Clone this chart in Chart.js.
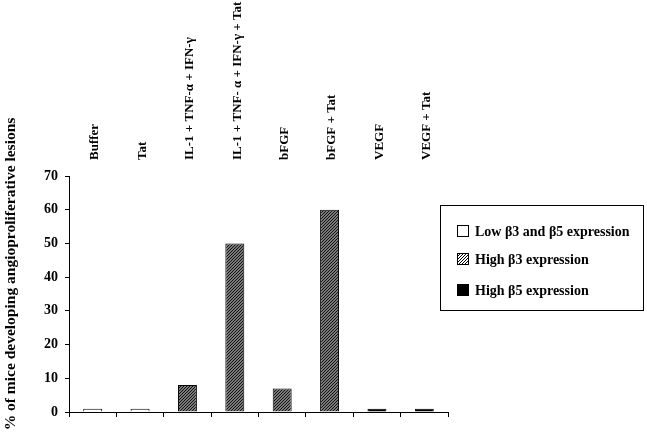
<!DOCTYPE html>
<html>
<head>
<meta charset="utf-8">
<script src="https://cdn.jsdelivr.net/npm/chart.js@4.4.1/dist/chart.umd.min.js"></script>
<style>
html,body{margin:0;padding:0;background:#fff;}
#wrap{width:647px;height:434px;position:relative;}
</style>
</head>
<body>
<div id="wrap"><canvas id="c" width="647" height="434"></canvas></div>
<script>
const categories = ["Buffer", "Tat", "IL-1 + TNF-\u03b1 + IFN-\u03b3", "IL-1 + TNF- \u03b1 + IFN-\u03b3 + Tat", "bFGF", "bFGF + Tat", "VEGF", "VEGF + Tat"];
const values = [1, 1, 8, 50, 7, 60, 1, 1];
const groups = [0, 0, 1, 1, 1, 1, 2, 2]; // 0 = low b3/b5, 1 = high b3, 2 = high b5
const legendLabels = ["Low \u03b23 and \u03b25 expression", "High \u03b23 expression", "High \u03b25 expression"];
const yTicks = [0, 10, 20, 30, 40, 50, 60, 70];
const yTitle = "% of mice developing angioproliferative lesions";

const FONT = "'Liberation Serif', 'Times New Roman', serif";

function makeHatch(bg, line, size) {
  const p = document.createElement('canvas');
  p.width = size; p.height = size;
  const g = p.getContext('2d');
  g.fillStyle = bg; g.fillRect(0, 0, size, size);
  g.strokeStyle = line; g.lineWidth = 1;
  g.beginPath();
  g.moveTo(0, size); g.lineTo(size, 0);
  g.moveTo(-1, 1); g.lineTo(1, -1);
  g.moveTo(size - 1, size + 1); g.lineTo(size + 1, size - 1);
  g.stroke();
  return g.createPattern(p, 'repeat');
}

const ctx = document.getElementById('c').getContext('2d');
const barHatch = makeHatch('#7a7a7a', '#111111', 3);
const legendHatch = makeHatch('#ffffff', '#000000', 3);
const fills = [ '#ffffff', barHatch, '#000000' ];
const legendFills = [ '#ffffff', legendHatch, '#000000' ];

const legendPlugin = {
  id: 'boxLegend',
  afterDraw(chart) {
    const c = chart.ctx;
    c.save();
    c.fillStyle = '#000';
    c.font = 'bold 15.5px ' + FONT;
    c.textAlign = 'center';
    c.textBaseline = 'middle';
    c.translate(11, 274);
    c.rotate(-Math.PI / 2);
    c.fillText(yTitle, 0, 0);
    c.restore();

    c.save();
    const bx = 440.5, by = 205.5, bw = 203, bh = 105;
    c.strokeStyle = '#000'; c.lineWidth = 1;
    c.strokeRect(bx, by, bw, bh);
    const rows = [231, 259, 290];
    c.font = 'bold 14px ' + FONT;
    c.textAlign = 'left'; c.textBaseline = 'middle';
    legendLabels.forEach((t, i) => {
      const sy = rows[i] - 6;
      c.fillStyle = legendFills[i];
      c.fillRect(457, sy, 12, 12);
      c.strokeStyle = '#000';
      c.strokeRect(457.5, sy + 0.5, 11, 11);
      c.fillStyle = '#000';
      c.fillText(t, 475, rows[i] + 1);
    });
    c.restore();
  }
};

new Chart(ctx, {
  type: 'bar',
  data: {
    labels: categories,
    datasets: [{
      data: values,
      backgroundColor: groups.map(g => fills[g]),
      borderColor: '#000',
      borderWidth: 1,
      categoryPercentage: 1,
      barPercentage: 0.4
    }]
  },
  options: {
    responsive: false,
    animation: false,
    devicePixelRatio: 1,
    layout: { padding: { left: 39, right: 199, top: 0, bottom: 0 } },
    plugins: { legend: { display: false }, tooltip: { enabled: false } },
    scales: {
      x: {
        type: 'category',
        position: 'bottom',
        offset: true,
        grid: { offset: true, drawOnChartArea: false, color: '#000', tickLength: 5, tickColor: '#000' },
        border: { color: '#000', width: 1 },
        ticks: { display: false },
        afterFit(s) { s.height = 22; }
      },
      x2: {
        type: 'category',
        position: 'top',
        labels: categories,
        offset: true,
        grid: { display: false, drawTicks: false },
        border: { display: false },
        ticks: {
          autoSkip: false, minRotation: 90, maxRotation: 90, padding: 16, labelOffset: 18,
          color: '#000', font: { family: FONT, size: 13, weight: 'bold' }
        },
        afterFit(s) { s.height = 176; }
      },
      y: {
        min: 0, max: 70,
        afterBuildTicks(s) { s.ticks = yTicks.map(v => ({ value: v })); },
        grid: { drawOnChartArea: false, color: '#000', tickLength: 4, tickColor: '#000' },
        border: { color: '#000', width: 1 },
        ticks: { padding: 7, color: '#000', font: { family: FONT, size: 14, weight: 'bold' } },
        afterFit(s) { s.width = 30; }
      }
    }
  },
  plugins: [legendPlugin]
});
</script>
</body>
</html>
